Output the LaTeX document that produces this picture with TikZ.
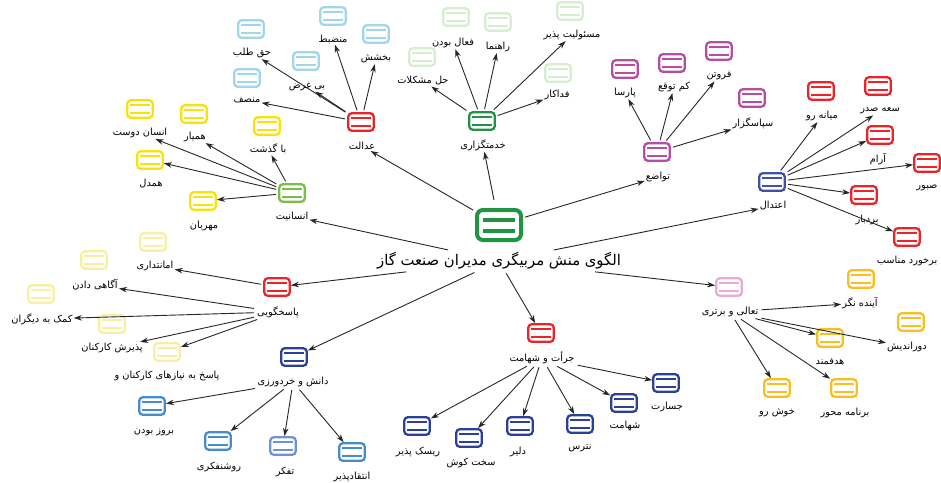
\documentclass[tikz,border=0pt]{standalone}
\usepackage{fontspec}
\newfontfamily\arabicfont[Script=Arabic]{DejaVu Sans}
\TeXXeTstate=1
\usetikzlibrary{arrows.meta}
\definecolor{cgreen}{RGB}{32,148,66}
\definecolor{dgreen}{RGB}{36,146,68}
\definecolor{lgreen}{RGB}{122,190,72}
\definecolor{pgreen}{RGB}{214,237,208}
\definecolor{cred}{RGB}{236,36,42}
\definecolor{lblue}{RGB}{160,214,232}
\definecolor{cyellow}{RGB}{246,228,8}
\definecolor{pyellow}{RGB}{248,240,160}
\definecolor{cmag}{RGB}{184,76,164}
\definecolor{dblue}{RGB}{66,82,162}
\definecolor{nblue}{RGB}{44,64,154}
\definecolor{mblue}{RGB}{72,140,206}
\definecolor{tblue}{RGB}{112,146,210}
\definecolor{cpink}{RGB}{230,172,210}
\definecolor{corange}{RGB}{250,190,32}
\tikzset{
  ico/.style={draw=#1, fill=white, line width=2.3pt, rounded corners=3.5pt,
    minimum width=25.5pt, minimum height=17.5pt, inner sep=0pt,
    path picture={\draw[#1,line width=2.4pt]
      ([xshift=-10pt,yshift=4pt]path picture bounding box.center) -- ++(20pt,0pt)
      ([xshift=-10pt,yshift=-4pt]path picture bounding box.center) -- ++(20pt,0pt);}},
  bigico/.style={draw=#1, fill=white, line width=4pt, rounded corners=6pt,
    minimum width=44pt, minimum height=30pt, inner sep=0pt,
    path picture={\draw[#1,line width=4pt]
      ([xshift=-16pt,yshift=5.5pt]path picture bounding box.center) -- ++(32pt,0pt)
      ([xshift=-16pt,yshift=-5.5pt]path picture bounding box.center) -- ++(32pt,0pt);}},
  lbl/.style={inner sep=1pt, text=black, font=\arabicfont\fontsize{9.8}{11}\selectfont},
  arr/.style={draw=black!85, line width=0.9pt, -{Stealth[length=8pt,width=5.5pt]}, shorten <=2pt}
}
\newcommand\cpt[7]{\node[ico=#6] (#1) at (#2,#3) {}; \node[lbl] (#1l) at (#4,#5) {#7};}
\begin{document}
\begin{tikzpicture}[x=1pt,y=-1pt]
\useasboundingbox (0,0) rectangle (941,482);
% center
\node[bigico=cgreen] (c) at (499,225) {};
\node[lbl, inner sep=2pt, font=\arabicfont\fontsize{14.8}{16}\selectfont] (cl) at (499,261) {\beginR الگوی منش مربیگری مدیران صنعت گاز\endR};
% categories
\cpt{ad}{361}{122}{362}{146}{cred}{\beginR عدالت\endR}
\cpt{en}{292}{193}{292}{216}{lgreen}{\beginR انسانیت\endR}
\cpt{kh}{482}{121}{483}{145}{dgreen}{\beginR خدمتگزاری\endR}
\cpt{ta}{657}{152}{658}{177}{cmag}{\beginR تواضع\endR}
\cpt{et}{772}{182}{773}{206}{dblue}{\beginR اعتدال\endR}
\cpt{pa}{277}{287}{278}{312}{cred}{\beginR پاسخگویی\endR}
\cpt{da}{294}{357}{293}{382}{nblue}{\beginR دانش و خردورزی\endR}
\cpt{jo}{541}{333}{542}{358}{cred}{\beginR جرأت و شهامت\endR}
\cpt{tl}{729}{287}{730}{312}{cpink}{\beginR تعالی و برتری\endR}
% adalat
\cpt{ad1}{251}{29}{252}{53}{lblue}{\beginR حق طلب\endR}
\cpt{ad2}{306}{61}{307}{86}{lblue}{\beginR بی غرض\endR}
\cpt{ad3}{247}{78}{247}{100}{lblue}{\beginR منصف\endR}
\cpt{ad4}{333}{16}{333}{39}{lblue}{\beginR منضبط\endR}
\cpt{ad5}{376}{34}{376}{59}{lblue}{\beginR بخشش\endR}
% ensaniyat
\cpt{en1}{140}{109}{140}{133}{cyellow}{\beginR انسان دوست\endR}
\cpt{en2}{194}{114}{195}{137}{cyellow}{\beginR همیار\endR}
\cpt{en3}{267}{126}{268}{149}{cyellow}{\beginR با گذشت\endR}
\cpt{en4}{150}{160}{151}{184}{cyellow}{\beginR همدل\endR}
\cpt{en5}{203}{201}{204}{226}{cyellow}{\beginR مهربان\endR}
% khedmatgozari
\cpt{kh1}{422}{57}{423}{81}{pgreen}{\beginR حل مشکلات\endR}
\cpt{kh2}{456}{17}{453}{43}{pgreen}{\beginR فعال بودن\endR}
\cpt{kh3}{498}{22}{498}{47}{pgreen}{\beginR راهنما\endR}
\cpt{kh4}{570}{11}{572}{35}{pgreen}{\beginR مسئولیت پذیر\endR}
\cpt{kh5}{558}{73}{557}{95}{pgreen}{\beginR فداکار\endR}
% tavazo
\cpt{ta1}{625}{69}{625}{93}{cmag}{\beginR پارسا\endR}
\cpt{ta2}{672}{63}{674}{87}{cmag}{\beginR کم توقع\endR}
\cpt{ta3}{719}{51}{719}{76}{cmag}{\beginR فروتن\endR}
\cpt{ta4}{752}{98}{753}{123}{cmag}{\beginR سپاسگزار\endR}
% etedal
\cpt{et1}{821}{91}{822}{116}{cred}{\beginR میانه رو\endR}
\cpt{et2}{878}{86}{880}{111}{cred}{\beginR سعه صدر\endR}
\cpt{et3}{880}{135}{878}{159}{cred}{\beginR آرام\endR}
\cpt{et4}{927}{163}{927}{188}{cred}{\beginR صبور\endR}
\cpt{et5}{864}{195}{867}{220}{cred}{\beginR بردبار\endR}
\cpt{et6}{907}{237}{907}{261}{cred}{\beginR برخورد مناسب\endR}
% pasokhgooyi
\cpt{pa1}{153}{242}{155}{266}{pyellow}{\beginR امانتداری\endR}
\cpt{pa2}{94}{260}{95}{285}{pyellow}{\beginR آگاهی دادن\endR}
\cpt{pa3}{41}{294}{42}{319}{pyellow}{\beginR کمک به دیگران\endR}
\cpt{pa4}{112}{324}{112}{348}{pyellow}{\beginR پذیرش کارکنان\endR}
\cpt{pa5}{167}{352}{167}{376}{pyellow}{\beginR پاسخ به نیازهای کارکنان و\endR}
% danesh
\cpt{da1}{152}{406}{154}{432}{mblue}{\beginR بروز بودن\endR}
\cpt{da2}{218}{441}{219}{467}{mblue}{\beginR روشنفکری\endR}
\cpt{da3}{283}{446}{285}{472}{tblue}{\beginR تفکر\endR}
\cpt{da4}{352}{452}{352}{477}{mblue}{\beginR انتقادپذیر\endR}
% jorat
\cpt{jo1}{417}{426}{418}{452}{nblue}{\beginR ریسک پذیر\endR}
\cpt{jo2}{469}{438}{471}{463}{nblue}{\beginR سخت کوش\endR}
\cpt{jo3}{520}{426}{518}{452}{nblue}{\beginR دلیر\endR}
\cpt{jo4}{580}{424}{580}{448}{nblue}{\beginR نترس\endR}
\cpt{jo5}{624}{403}{625}{426}{nblue}{\beginR شهامت\endR}
\cpt{jo6}{666}{383}{667}{407}{nblue}{\beginR جسارت\endR}
% taali
\cpt{tl1}{861}{279}{860}{303}{corange}{\beginR آینده نگر\endR}
\cpt{tl2}{911}{322}{907}{347}{corange}{\beginR دوراندیش\endR}
\cpt{tl3}{830}{338}{830}{362}{corange}{\beginR هدفمند\endR}
\cpt{tl4}{777}{388}{777}{413}{corange}{\beginR خوش رو\endR}
\cpt{tl5}{844}{388}{845}{413}{corange}{\beginR برنامه محور\endR}
% center edges
\draw[arr] (c) -- (adl);
\draw[arr, shorten <=8pt] (c) -- (khl);
\draw[arr] (c) -- (tal);
\draw[arr] (cl) -- (enl);
\draw[arr] (cl) -- (etl);
\draw[arr] (cl) -- (pa);
\draw[arr] (cl) -- (da);
\draw[arr] (cl) -- (jo);
\draw[arr] (cl) -- (tl);
% adalat
\foreach \i in {1,...,5} {\draw[arr] (ad) -- (ad\i l);}
% ensaniyat
\draw[arr] (en) -- (en1l);
\draw[arr] (en) -- (en2l);
\draw[arr] (en) -- (en3l);
\draw[arr] (en) -- (en4);
\draw[arr] (en) -- (en5);
% khedmat
\foreach \i in {1,...,5} {\draw[arr] (kh) -- (kh\i l);}
% tavazo
\foreach \i in {1,...,4} {\draw[arr] (ta) -- (ta\i l);}
% etedal
\draw[arr] (et) -- (et1l);
\draw[arr] (et) -- (et2l);
\draw[arr] (et) -- (et3);
\draw[arr] (et) -- (et4);
\draw[arr] (et) -- (et5);
\draw[arr] (et) -- (et6);
% pasokhgooyi
\draw[arr] (pa) -- (pa1l);
\draw[arr] (pal) -- (pa2l);
\draw[arr] (pal) -- (pa3l);
\draw[arr] (pal) -- (pa4l);
\draw[arr] (pal) -- (pa5);
% danesh
\foreach \i in {1,...,4} {\draw[arr] (dal) -- (da\i);}
% jorat
\foreach \i in {1,...,6} {\draw[arr] (jol) -- (jo\i);}
% taali
\draw[arr] (tll) -- (tl1l);
\draw[arr] (tll) -- (tl2l);
\draw[arr] (tll) -- (tl3);
\draw[arr] (tll) -- (tl4);
\draw[arr] (tll) -- (tl5);
\end{tikzpicture}
\end{document}
